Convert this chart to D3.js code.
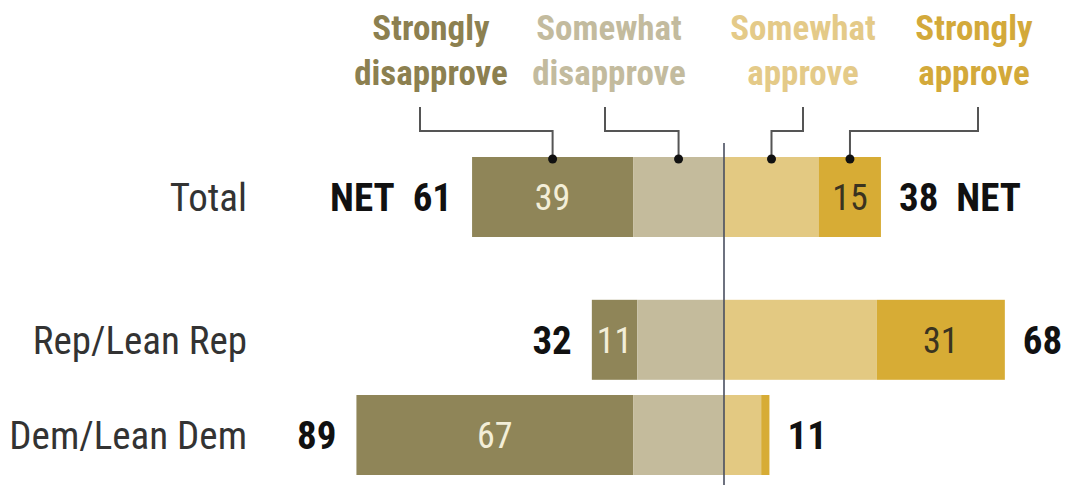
<!DOCTYPE html>
<html>
<head>
<meta charset="utf-8">
<script src="https://cdn.jsdelivr.net/npm/d3@7"></script>
<style>
  html, body { margin: 0; padding: 0; background: #ffffff; }
  svg { display: block; }
  text { font-family: "Roboto", "Open Sans", sans-serif; font-stretch: 80%; }
</style>
</head>
<body>
<svg id="chart" width="1072" height="485"></svg>
<script>
// ---- data ----
const categories = ["Total", "Rep/Lean Rep", "Dem/Lean Dem"];
const stronglyDisapprove = [39, 11, 67];
const somewhatDisapprove = [22, 21, 22];
const somewhatApprove = [23, 37, 9];
const stronglyApprove = [15, 31, 2];
const netDisapprove = [61, 32, 89];
const netApprove = [38, 68, 11];
const headerLines = [["Strongly", "disapprove"], ["Somewhat", "disapprove"], ["Somewhat", "approve"], ["Strongly", "approve"]];

// ---- styles ----
const barColors = ["#8f8558", "#c4bb9c", "#e3c982", "#d7ac35"];
const headerColors = ["#8c8050", "#c3bb9e", "#e4ca88", "#d3a93a"];

const svg = d3.select("#chart");
const FONT_BIG = 39;

const x = d3.scaleLinear().domain([-100, 100]).range([724 - 413, 724 + 413]);
// Total row is set apart from the party rows by an extra half step
const rowPos = categories.map((c, i) => i + (i > 0 ? 0.5 : 0));
const y = d3.scaleLinear().domain([0, 2.5]).range([197, 435]);
const barH = 80;

const rows = categories.map((c, i) => {
  const sd = stronglyDisapprove[i], wd = somewhatDisapprove[i];
  const wa = somewhatApprove[i], sa = stronglyApprove[i];
  return {
    cat: c, i,
    segs: [
      { k: 0, x0: -(sd + wd), x1: -wd, v: sd },
      { k: 1, x0: -wd, x1: 0, v: wd },
      { k: 2, x0: 0, x1: wa, v: wa },
      { k: 3, x0: wa, x1: wa + sa, v: sa }
    ],
    cy: y(rowPos[i])
  };
});

const g = svg.append("g");
rows.forEach(r => {
  g.selectAll(null).data(r.segs).enter().append("rect")
    .attr("x", d => x(d.x0))
    .attr("width", d => x(d.x1) - x(d.x0))
    .attr("y", r.cy - barH / 2)
    .attr("height", barH)
    .attr("fill", d => barColors[d.k]);

  // value labels for "strongly" segments
  r.segs.filter(d => (d.k === 0 || d.k === 3) && d.v >= 5).forEach(d => {
    g.append("text")
      .attr("x", (x(d.x0) + x(d.x1)) / 2)
      .attr("y", r.cy)
      .attr("dy", "0.36em")
      .attr("text-anchor", "middle")
      .attr("font-size", 36)
      .attr("fill", d.k === 0 ? "#f3eed8" : "#3a3320")
      .text(d.v);
  });

  // category label
  g.append("text")
    .attr("x", 247).attr("y", r.cy).attr("dy", "0.36em")
    .attr("text-anchor", "end")
    .attr("font-size", FONT_BIG)
    .attr("fill", "#333")
    .text(r.cat);

  // net labels
  const leftEdge = x(r.segs[0].x0), rightEdge = x(r.segs[3].x1);
  g.append("text")
    .attr("x", leftEdge - 20).attr("y", r.cy).attr("dy", "0.36em")
    .attr("text-anchor", "end")
    .attr("font-size", FONT_BIG).attr("font-weight", "bold")
    .attr("fill", "#111")
    .text(r.i === 0 ? "NET\u00a0\u00a0" + netDisapprove[r.i] : netDisapprove[r.i]);
  g.append("text")
    .attr("x", rightEdge + 18).attr("y", r.cy).attr("dy", "0.36em")
    .attr("text-anchor", "start")
    .attr("font-size", FONT_BIG).attr("font-weight", "bold")
    .attr("fill", "#111")
    .text(r.i === 0 ? netApprove[r.i] + "\u00a0\u00a0NET" : netApprove[r.i]);
});

// center line
svg.append("line")
  .attr("x1", x(0)).attr("x2", x(0))
  .attr("y1", 143).attr("y2", 485)
  .attr("stroke", "#4a4f60").attr("stroke-width", 1.6);

// header labels
const headerX = [431, 609, 803, 974];
const leaderTopX = [420, 605, 803, 978];
headerLines.forEach((lines, k) => {
  const t = svg.append("text")
    .attr("text-anchor", "middle")
    .attr("font-size", 35)
    .attr("font-weight", "bold")
    .attr("fill", headerColors[k]);
  lines.forEach((ln, j) => {
    t.append("tspan").attr("x", headerX[k]).attr("y", 40 + j * 45).text(ln);
  });
});

// leader lines to Total bar segment centers
const total = rows[0];
total.segs.forEach(d => {
  const cx = (x(d.x0) + x(d.x1)) / 2;
  const topY = 107, elbowY = 131, dotY = total.cy - barH / 2 + 2;
  svg.append("path")
    .attr("d", `M${leaderTopX[d.k]},${topY}V${elbowY}H${cx}V${dotY}`)
    .attr("fill", "none")
    .attr("stroke", "#555")
    .attr("stroke-width", 2);
  svg.append("circle")
    .attr("cx", cx).attr("cy", dotY).attr("r", 4.5)
    .attr("fill", "#111");
});
</script>
</body>
</html>
